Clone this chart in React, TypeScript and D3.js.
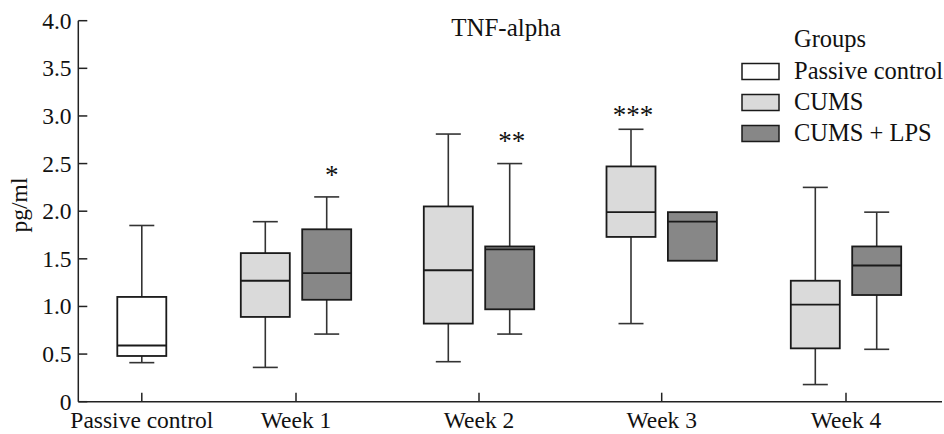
import React from "react";
import * as d3 from "d3";

const categories = ["Passive control", "Week 1", "Week 2", "Week 3", "Week 4"];
const groups = ["Passive control", "CUMS", "CUMS + LPS"];
const yTicks = [0, 0.5, 1.0, 1.5, 2.0, 2.5, 3.0, 3.5, 4.0];

// box stats per box: category, group, min, q1, median, q3, max
const boxCategory = ["Passive control", "Week 1", "Week 1", "Week 2", "Week 2", "Week 3", "Week 3", "Week 4", "Week 4"];
const boxGroup = ["Passive control", "CUMS", "CUMS + LPS", "CUMS", "CUMS + LPS", "CUMS", "CUMS + LPS", "CUMS", "CUMS + LPS"];
const boxMin = [0.41, 0.36, 0.71, 0.42, 0.71, 0.82, 1.48, 0.18, 0.55];
const boxQ1 = [0.48, 0.89, 1.07, 0.82, 0.97, 1.73, 1.48, 0.56, 1.12];
const boxMedian = [0.59, 1.27, 1.35, 1.38, 1.6, 1.99, 1.89, 1.02, 1.43];
const boxQ3 = [1.1, 1.56, 1.81, 2.05, 1.63, 2.47, 1.99, 1.27, 1.63];
const boxMax = [1.85, 1.89, 2.15, 2.81, 2.5, 2.86, 1.99, 2.25, 1.99];

const starCategory = ["Week 1", "Week 2", "Week 3"];
const starGroup = ["CUMS + LPS", "CUMS + LPS", "CUMS"];
const starLabel = ["*", "**", "***"];
const starValue = [2.43, 2.79, 3.06];

const groupFill: Record<string, string> = {
  "Passive control": "#ffffff",
  CUMS: "#dadada",
  "CUMS + LPS": "#878787",
};

const W = 944;
const H = 434;
const FONT = "'Liberation Serif', 'Times New Roman', serif";

export default function App() {
  const y = d3.scaleLinear().domain([0, 4]).range([401.7, 20.7]);
  const x = d3
    .scaleOrdinal<string, number>()
    .domain(categories)
    .range([141.8, 296, 479, 661.7, 846]);
  const offset = d3
    .scaleOrdinal<string, number>()
    .domain(["CUMS", "CUMS + LPS"])
    .range([-30.7, 30.7]);
  const boxW = 49;
  const capW = 25;

  const centerX = (cat: string, grp: string) =>
    cat === "Passive control" ? x(cat) : x(cat) + offset(grp);

  const axisLeft = 78.3;
  const axisRight = 942;

  const boxes = boxCategory.map((c, i) => ({
    c,
    g: boxGroup[i],
    min: boxMin[i],
    q1: boxQ1[i],
    med: boxMedian[i],
    q3: boxQ3[i],
    max: boxMax[i],
  }));

  return (
    <svg
      width={W}
      height={H}
      style={{ position: "absolute", left: 0, top: 0, background: "#fff" }}
      fontFamily={FONT}
    >
      <rect width={W} height={H} fill="#fff" />
      {/* axes */}
      <line x1={axisLeft} x2={axisLeft} y1={y(4)} y2={y(0)} stroke="#222" strokeWidth={1.5} />
      <line x1={axisLeft} x2={axisRight} y1={y(0)} y2={y(0)} stroke="#222" strokeWidth={1.5} />
      {yTicks.map((t) => (
        <g key={t}>
          <line x1={axisLeft} x2={axisLeft + 9} y1={y(t)} y2={y(t)} stroke="#222" strokeWidth={1.5} />
          <text x={71.5} y={y(t) + 8} textAnchor="end" fontSize={23.5} fill="#111">
            {t === 0 ? "0" : d3.format(".1f")(t)}
          </text>
        </g>
      ))}
      {categories.map((c) => (
        <g key={c}>
          <line x1={x(c)} x2={x(c)} y1={y(0)} y2={y(0) - 9} stroke="#222" strokeWidth={1.5} />
          <text x={x(c)} y={428} textAnchor="middle" fontSize={23.5} fill="#111">
            {c}
          </text>
        </g>
      ))}
      <text
        transform={`translate(27,205) rotate(-90)`}
        textAnchor="middle"
        fontSize={23.5}
        fill="#111"
      >
        pg/ml
      </text>
      <text x={506} y={36} textAnchor="middle" fontSize={25} fill="#111">
        TNF-alpha
      </text>

      {/* boxes */}
      {boxes.map((b, i) => {
        const cx = centerX(b.c, b.g);
        return (
          <g key={i}>
            {b.max > b.q3 && (
              <>
                <line x1={cx} x2={cx} y1={y(b.q3)} y2={y(b.max)} stroke="#333" strokeWidth={1.6} />
                <line x1={cx - capW / 2} x2={cx + capW / 2} y1={y(b.max)} y2={y(b.max)} stroke="#333" strokeWidth={1.6} />
              </>
            )}
            {b.min < b.q1 && (
              <>
                <line x1={cx} x2={cx} y1={y(b.q1)} y2={y(b.min)} stroke="#333" strokeWidth={1.6} />
                <line x1={cx - capW / 2} x2={cx + capW / 2} y1={y(b.min)} y2={y(b.min)} stroke="#333" strokeWidth={1.6} />
              </>
            )}
            <rect
              x={cx - boxW / 2}
              y={y(b.q3)}
              width={boxW}
              height={y(b.q1) - y(b.q3)}
              fill={groupFill[b.g]}
              stroke="#1a1a1a"
              strokeWidth={1.8}
            />
            <line
              x1={cx - boxW / 2}
              x2={cx + boxW / 2}
              y1={y(b.med)}
              y2={y(b.med)}
              stroke="#1a1a1a"
              strokeWidth={1.8}
            />
          </g>
        );
      })}

      {/* significance stars */}
      {starLabel.map((s, i) => (
        <text
          key={i}
          x={centerX(starCategory[i], starGroup[i]) + (i === 0 ? 5 : 2)}
          y={y(starValue[i]) + 14}
          textAnchor="middle"
          fontSize={27}
          fill="#111"
        >
          {s}
        </text>
      ))}

      {/* legend */}
      <text x={794} y={47} fontSize={24.5} fill="#111">
        Groups
      </text>
      {groups.map((g, i) => (
        <g key={g}>
          <rect
            x={742}
            y={63.5 + i * 31}
            width={37}
            height={16}
            fill={groupFill[g]}
            stroke="#1a1a1a"
            strokeWidth={1.5}
          />
          <text x={794} y={78.5 + i * 31} fontSize={24.5} fill="#111">
            {g}
          </text>
        </g>
      ))}
    </svg>
  );
}
